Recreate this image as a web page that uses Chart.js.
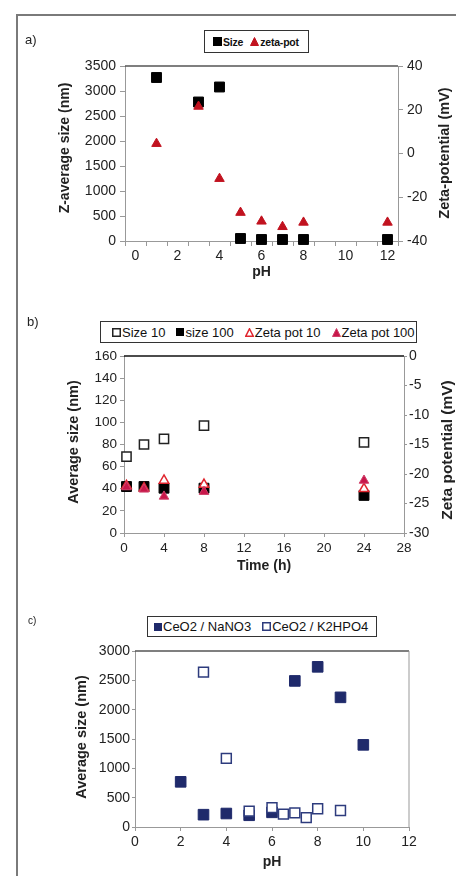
<!DOCTYPE html>
<html>
<head>
<meta charset="utf-8">
<script src="https://cdn.jsdelivr.net/npm/chart.js@4.4.1/dist/chart.umd.min.js"></script>
<style>
body { margin: 0; background: #fff; width: 456px; height: 876px; overflow: hidden; position: relative; font-family: "Liberation Sans", Arial, sans-serif; }
#frame { position: absolute; left: 16px; top: 14px; width: 460px; height: 880px; border-top: 2px solid #7a7a7a; border-left: 2px solid #7a7a7a; }
canvas { position: absolute; left: 0; }
.tag { position: absolute; color: #222; }
.legend { position: absolute; box-sizing: border-box; border: 1.5px solid #333; background: #fff; color: #111; display: flex; align-items: center; white-space: nowrap; }
.legend span { display: inline-flex; align-items: center; }
</style>
</head>
<body>
<div id="frame"></div>
<canvas id="chartA" width="456" height="290" style="top:0"></canvas>
<canvas id="chartB" width="456" height="290" style="top:290px"></canvas>
<canvas id="chartC" width="456" height="296" style="top:580px"></canvas>
<div class="tag" style="left:25px;top:32px;font-size:13px">a)</div>
<div class="tag" style="left:27px;top:314px;font-size:13px">b)</div>
<div class="tag" style="left:28px;top:615px;font-size:10px">c)</div>
<div class="legend" id="legendA" style="left:204px;top:30px;width:105px;height:23px;font-size:10.5px;font-weight:bold;padding-left:8px;gap:7px;letter-spacing:-0.2px"></div>
<div class="legend" id="legendB" style="left:100px;top:321px;width:317px;height:22px;font-size:13px;padding-left:11px;gap:11px"></div>
<div class="legend" id="legendC" style="left:147px;top:616px;width:230px;height:21px;font-size:13px;padding-left:6px;gap:11px"></div>
<script>
// a) size and zeta potential against pH
const phA = [1, 3, 4, 5, 6, 7, 8, 12];
const sizeA = [3270, 2780, 3080, 50, 30, 30, 30, 30];
const zetaA = [4.5, 21.5, -11.5, -27, -31, -33.5, -31.5, -31.5];
const phTicksA = [0, 1, 2, 3, 4, 5, 6, 7, 8, 9, 10, 11, 12];

// b) size and zeta potential against time
const timeB = [0.25, 2, 4, 8, 24];
const size10B = [69, 80, 85, 97, 82];
const size100B = [42, 42, 40.5, 40.5, 34];
const zeta10B = [-22, -22.4, -21.1, -21.8, -22.5];
const zeta100B = [-22.2, -22.6, -23.8, -23, -21.1];

// c) size against pH in two media
const phNaNO3 = [2, 3, 4, 5, 6, 7, 8, 9, 10];
const sizeNaNO3 = [770, 210, 230, 200, 250, 2490, 2730, 2210, 1400];
const phK2HPO4 = [3, 4, 5, 6, 6.5, 7, 7.5, 8, 9];
const sizeK2HPO4 = [2640, 1170, 270, 330, 220, 240, 160, 310, 280];

const FONT = '"Liberation Sans", Arial, sans-serif';
const AXIS = '#999';
const TXT = '#222';

function pts(xs, ys) {
  return xs.map((x, i) => ({ x: x, y: ys[i] }));
}

// line along the top of the plot (and right side where asked)
const plotFrame = {
  id: 'plotFrame',
  afterDraw(chart, args, opts) {
    if (!opts.top) return;
    const ctx = chart.ctx, a = chart.chartArea;
    ctx.save();
    ctx.lineWidth = 1.5;
    ctx.strokeStyle = opts.top;
    ctx.beginPath(); ctx.moveTo(a.left, a.top); ctx.lineTo(a.right, a.top); ctx.stroke();
    if (opts.right) {
      ctx.lineWidth = 1;
      ctx.strokeStyle = opts.right;
      ctx.beginPath(); ctx.moveTo(a.right, a.top); ctx.lineTo(a.right, a.bottom); ctx.stroke();
    }
    ctx.restore();
  }
};

// vertical axis titles, both reading bottom to top
const sideTitles = {
  id: 'sideTitles',
  afterDraw(chart, args, opts) {
    if (!opts.titles) return;
    const ctx = chart.ctx;
    opts.titles.forEach(t => {
      ctx.save();
      ctx.translate(t.x, t.y);
      ctx.rotate(-Math.PI / 2);
      ctx.font = 'bold ' + t.size + 'px ' + FONT;
      ctx.fillStyle = TXT;
      ctx.textAlign = 'center';
      ctx.textBaseline = 'middle';
      ctx.fillText(t.text, 0, 0);
      ctx.restore();
    });
  }
};
Chart.register(plotFrame, sideTitles);

function markerSvg(ds, s) {
  const bw = ds.borderWidth || 0;
  const h = bw / 2;
  const shape = ds.pointStyle === 'triangle'
    ? `<polygon points="${s / 2},${h} ${s - h},${s - h} ${h},${s - h}"`
    : `<rect x="${h}" y="${h}" width="${s - bw}" height="${s - bw}"`;
  return `<svg width="${s}" height="${s}" style="margin-right:1px">${shape} fill="${ds.backgroundColor}" stroke="${ds.borderColor}" stroke-width="${bw}"/></svg>`;
}

function buildLegend(chart, id, sizes) {
  const el = document.getElementById(id);
  el.innerHTML = chart.data.datasets.map((ds, i) =>
    `<span>${markerSvg(ds, sizes[i])}${ds.label}</span>`).join('');
}

function yScale(min, max, step, width, pos, fs, tl, pad) {
  return {
    type: 'linear', position: pos, min: min, max: max,
    afterFit: s => { s.width = width; },
    ticks: { stepSize: step, color: TXT, font: { family: FONT, size: fs }, padding: pad, callback: v => String(v) },
    grid: { drawOnChartArea: false, tickLength: tl, color: AXIS },
    border: { color: AXIS, width: 1 }
  };
}

function xScale(min, max, step, height, title, fs, tl, pad) {
  return {
    type: 'linear', position: 'bottom', min: min, max: max,
    afterFit: s => { s.height = height; },
    ticks: { stepSize: step, color: TXT, font: { family: FONT, size: fs }, padding: pad, maxRotation: 0, callback: v => String(v) },
    grid: { drawOnChartArea: false, tickLength: tl, color: AXIS },
    border: { color: AXIS, width: 1 },
    title: { display: true, text: title, color: TXT, font: { family: FONT, size: 14, weight: 'bold' }, padding: { top: 4, bottom: 4 } }
  };
}

const base = { responsive: false, animation: false, events: [] };

// --- a) ---
const RED = '#c1121f';
const xA = xScale(-0.5, 12.5, 1, 44, 'pH', 14, 5, 2);
xA.afterBuildTicks = s => { s.ticks = phTicksA.map(v => ({ value: v })); };
xA.ticks.callback = v => (v % 2 === 0 ? String(v) : '');
xA.grid.offset = true;

const chartA = new Chart(document.getElementById('chartA'), {
  type: 'scatter',
  data: {
    datasets: [
      { label: 'Size', data: pts(phA, sizeA), yAxisID: 'y', pointStyle: 'rect', pointRadius: 7,
        backgroundColor: '#000', borderColor: '#000', borderWidth: 1, order: 1, clip: false },
      { label: 'zeta-pot', data: pts(phA, zetaA), yAxisID: 'y2', pointStyle: 'triangle', pointRadius: 5.5,
        backgroundColor: RED, borderColor: RED, borderWidth: 1, order: 0, clip: false }
    ]
  },
  options: Object.assign({}, base, {
    layout: { padding: { left: 0, right: 0, top: 66, bottom: 5 } },
    plugins: {
      legend: { display: false }, tooltip: { enabled: false },
      plotFrame: { top: '#555' },
      sideTitles: { titles: [
        { text: 'Z-average size (nm)', x: 65, y: 148, size: 14 },
        { text: 'Zeta-potential (mV)', x: 445, y: 153, size: 14.5 }
      ] }
    },
    scales: {
      x: xA,
      y: yScale(0, 3500, 500, 125, 'left', 14, 5, 4),
      y2: yScale(-40, 40, 20, 58, 'right', 14, 5, 4)
    }
  })
});
buildLegend(chartA, 'legendA', [9, 9]);

// --- b) ---
const chartB = new Chart(document.getElementById('chartB'), {
  type: 'scatter',
  data: {
    datasets: [
      { label: 'Size 10', data: pts(timeB, size10B), yAxisID: 'y', pointStyle: 'rect', pointRadius: 6.5,
        backgroundColor: '#fff', borderColor: '#222', borderWidth: 1.5, order: 3, clip: false },
      { label: 'size 100', data: pts(timeB, size100B), yAxisID: 'y', pointStyle: 'rect', pointRadius: 7,
        backgroundColor: '#000', borderColor: '#000', borderWidth: 1, order: 2, clip: false },
      { label: 'Zeta pot 10', data: pts(timeB, zeta10B), yAxisID: 'y2', pointStyle: 'triangle', pointRadius: 5.5,
        backgroundColor: '#fff', borderColor: '#e0252e', borderWidth: 1.5, order: 1, clip: false },
      { label: 'Zeta pot 100', data: pts(timeB, zeta100B), yAxisID: 'y2', pointStyle: 'triangle', pointRadius: 5.5,
        backgroundColor: '#c8174a', borderColor: '#d0406a', borderWidth: 1, order: 0, clip: false }
    ]
  },
  options: Object.assign({}, base, {
    layout: { padding: { left: 0, right: 0, top: 66, bottom: 1 } },
    plugins: {
      legend: { display: false }, tooltip: { enabled: false },
      plotFrame: { top: '#111' },
      sideTitles: { titles: [
        { text: 'Average size (nm)', x: 74, y: 152, size: 14.5 },
        { text: 'Zeta potential (mV)', x: 448, y: 160, size: 15.5 }
      ] }
    },
    scales: {
      x: xScale(0, 28, 4, 46, 'Time (h)', 13.5, 4, 3),
      y: yScale(0, 160, 20, 124, 'left', 13.5, 4, 3),
      y2: yScale(-30, 0, 5, 52, 'right', 14, 3, 2)
    }
  })
});
buildLegend(chartB, 'legendB', [9, 8, 9, 9]);

// --- c) ---
const NAVY = '#1f2a6b';
const chartC = new Chart(document.getElementById('chartC'), {
  type: 'scatter',
  data: {
    datasets: [
      { label: 'CeO2 / NaNO3', data: pts(phNaNO3, sizeNaNO3), pointStyle: 'rect', pointRadius: 7.5,
        backgroundColor: NAVY, borderColor: NAVY, borderWidth: 1, order: 1, clip: false },
      { label: 'CeO2 / K2HPO4', data: pts(phK2HPO4, sizeK2HPO4), pointStyle: 'rect', pointRadius: 7,
        backgroundColor: '#fff', borderColor: '#2d3b7d', borderWidth: 1.5, order: 0, clip: false }
    ]
  },
  options: Object.assign({}, base, {
    layout: { padding: { left: 0, right: 47, top: 71, bottom: 1 } },
    plugins: {
      legend: { display: false }, tooltip: { enabled: false },
      plotFrame: { top: '#555', right: '#999' },
      sideTitles: { titles: [
        { text: 'Average size (nm)', x: 82, y: 157, size: 14.5 }
      ] }
    },
    scales: {
      x: xScale(0, 12, 2, 48, 'pH', 14, 4, 3),
      y: yScale(0, 3000, 500, 135, 'left', 14, 3, 2)
    }
  })
});
buildLegend(chartC, 'legendC', [8, 9]);
</script>
</body>
</html>
